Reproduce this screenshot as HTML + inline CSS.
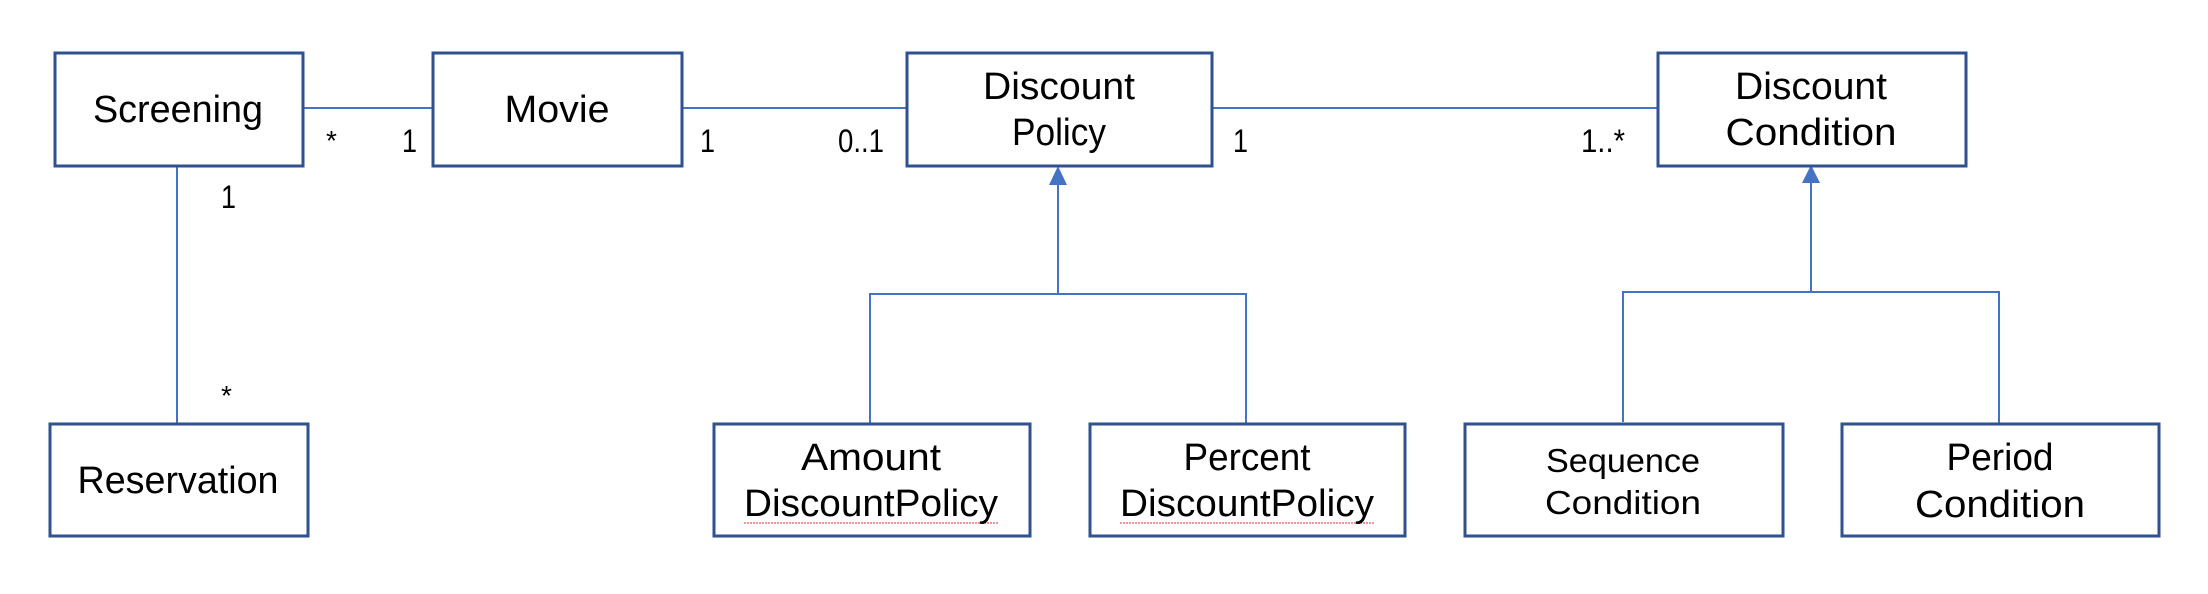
<!DOCTYPE html>
<html><head><meta charset="utf-8"><style>html,body{margin:0;padding:0;background:#fff;overflow:hidden;}svg{display:block;}</style></head>
<body>
<svg width="2208" height="594" viewBox="0 0 2208 594" xmlns="http://www.w3.org/2000/svg" font-family="Liberation Sans, sans-serif" fill="#000">
<g fill="none" stroke="#4472c4" stroke-width="2">
<line x1="303" y1="108" x2="432" y2="108"/>
<line x1="682" y1="108" x2="906" y2="108"/>
<line x1="1212" y1="108" x2="1657" y2="108"/>
<line x1="177" y1="166" x2="177" y2="424"/>
<polyline points="870,424 870,294 1246,294 1246,424"/>
<line x1="1058" y1="182" x2="1058" y2="294"/>
<polyline points="1623,422 1623,292 1999,292 1999,424"/>
<line x1="1811" y1="182" x2="1811" y2="292"/>
</g>
<g fill="#4472c4"><polygon points="1058,166 1049,185 1067,185"/><polygon points="1811,165 1802,183 1820,183"/></g>
<g fill="#fff" stroke="#2f528f" stroke-width="3">
<rect x="55" y="53" width="248" height="113"/>
<rect x="433" y="53" width="249" height="113"/>
<rect x="907" y="53" width="305" height="113"/>
<rect x="1658" y="53" width="308" height="113"/>
<rect x="50" y="424" width="258" height="112"/>
<rect x="714" y="424" width="316" height="112"/>
<rect x="1090" y="424" width="315" height="112"/>
<rect x="1465" y="424" width="318" height="112"/>
<rect x="1842" y="424" width="317" height="112"/>
</g>
<g fill="none" stroke="#e03030" stroke-width="1" stroke-dasharray="2,1">
<line x1="744" y1="523" x2="999" y2="523"/>
<line x1="1120" y1="523" x2="1375" y2="523"/>
</g>
<g font-size="38" text-anchor="middle">
<text x="178" y="122" textLength="170" lengthAdjust="spacingAndGlyphs">Screening</text>
<text x="557" y="122" textLength="105" lengthAdjust="spacingAndGlyphs">Movie</text>
<text x="1059" y="99" textLength="152" lengthAdjust="spacingAndGlyphs">Discount</text>
<text x="1059" y="145" textLength="94" lengthAdjust="spacingAndGlyphs">Policy</text>
<text x="1811" y="99" textLength="152" lengthAdjust="spacingAndGlyphs">Discount</text>
<text x="1811" y="145" textLength="171" lengthAdjust="spacingAndGlyphs">Condition</text>
<text x="178" y="493" textLength="201" lengthAdjust="spacingAndGlyphs">Reservation</text>
<text x="871" y="470" textLength="140" lengthAdjust="spacingAndGlyphs">Amount</text>
<text x="871" y="516" textLength="254" lengthAdjust="spacingAndGlyphs">DiscountPolicy</text>
<text x="1247" y="470" textLength="127" lengthAdjust="spacingAndGlyphs">Percent</text>
<text x="1247" y="516" textLength="254" lengthAdjust="spacingAndGlyphs">DiscountPolicy</text>
<text x="1623" y="472" font-size="33" textLength="154" lengthAdjust="spacingAndGlyphs">Sequence</text>
<text x="1623" y="514" font-size="33" textLength="156" lengthAdjust="spacingAndGlyphs">Condition</text>
<text x="2000" y="470" textLength="107" lengthAdjust="spacingAndGlyphs">Period</text>
<text x="2000" y="517" textLength="170" lengthAdjust="spacingAndGlyphs">Condition</text>
</g>
<g font-size="32">
<text x="326" y="150" font-size="28">*</text>
<text x="402" y="152" textLength="15" lengthAdjust="spacingAndGlyphs">1</text>
<text x="700" y="152" textLength="15" lengthAdjust="spacingAndGlyphs">1</text>
<text x="838" y="152" textLength="46" lengthAdjust="spacingAndGlyphs">0..1</text>
<text x="1233" y="152" textLength="15" lengthAdjust="spacingAndGlyphs">1</text>
<text x="1581" y="152" textLength="44" lengthAdjust="spacingAndGlyphs">1..*</text>
<text x="221" y="208" textLength="15" lengthAdjust="spacingAndGlyphs">1</text>
<text x="221" y="405" font-size="28">*</text>
</g>
</svg>
</body></html>
